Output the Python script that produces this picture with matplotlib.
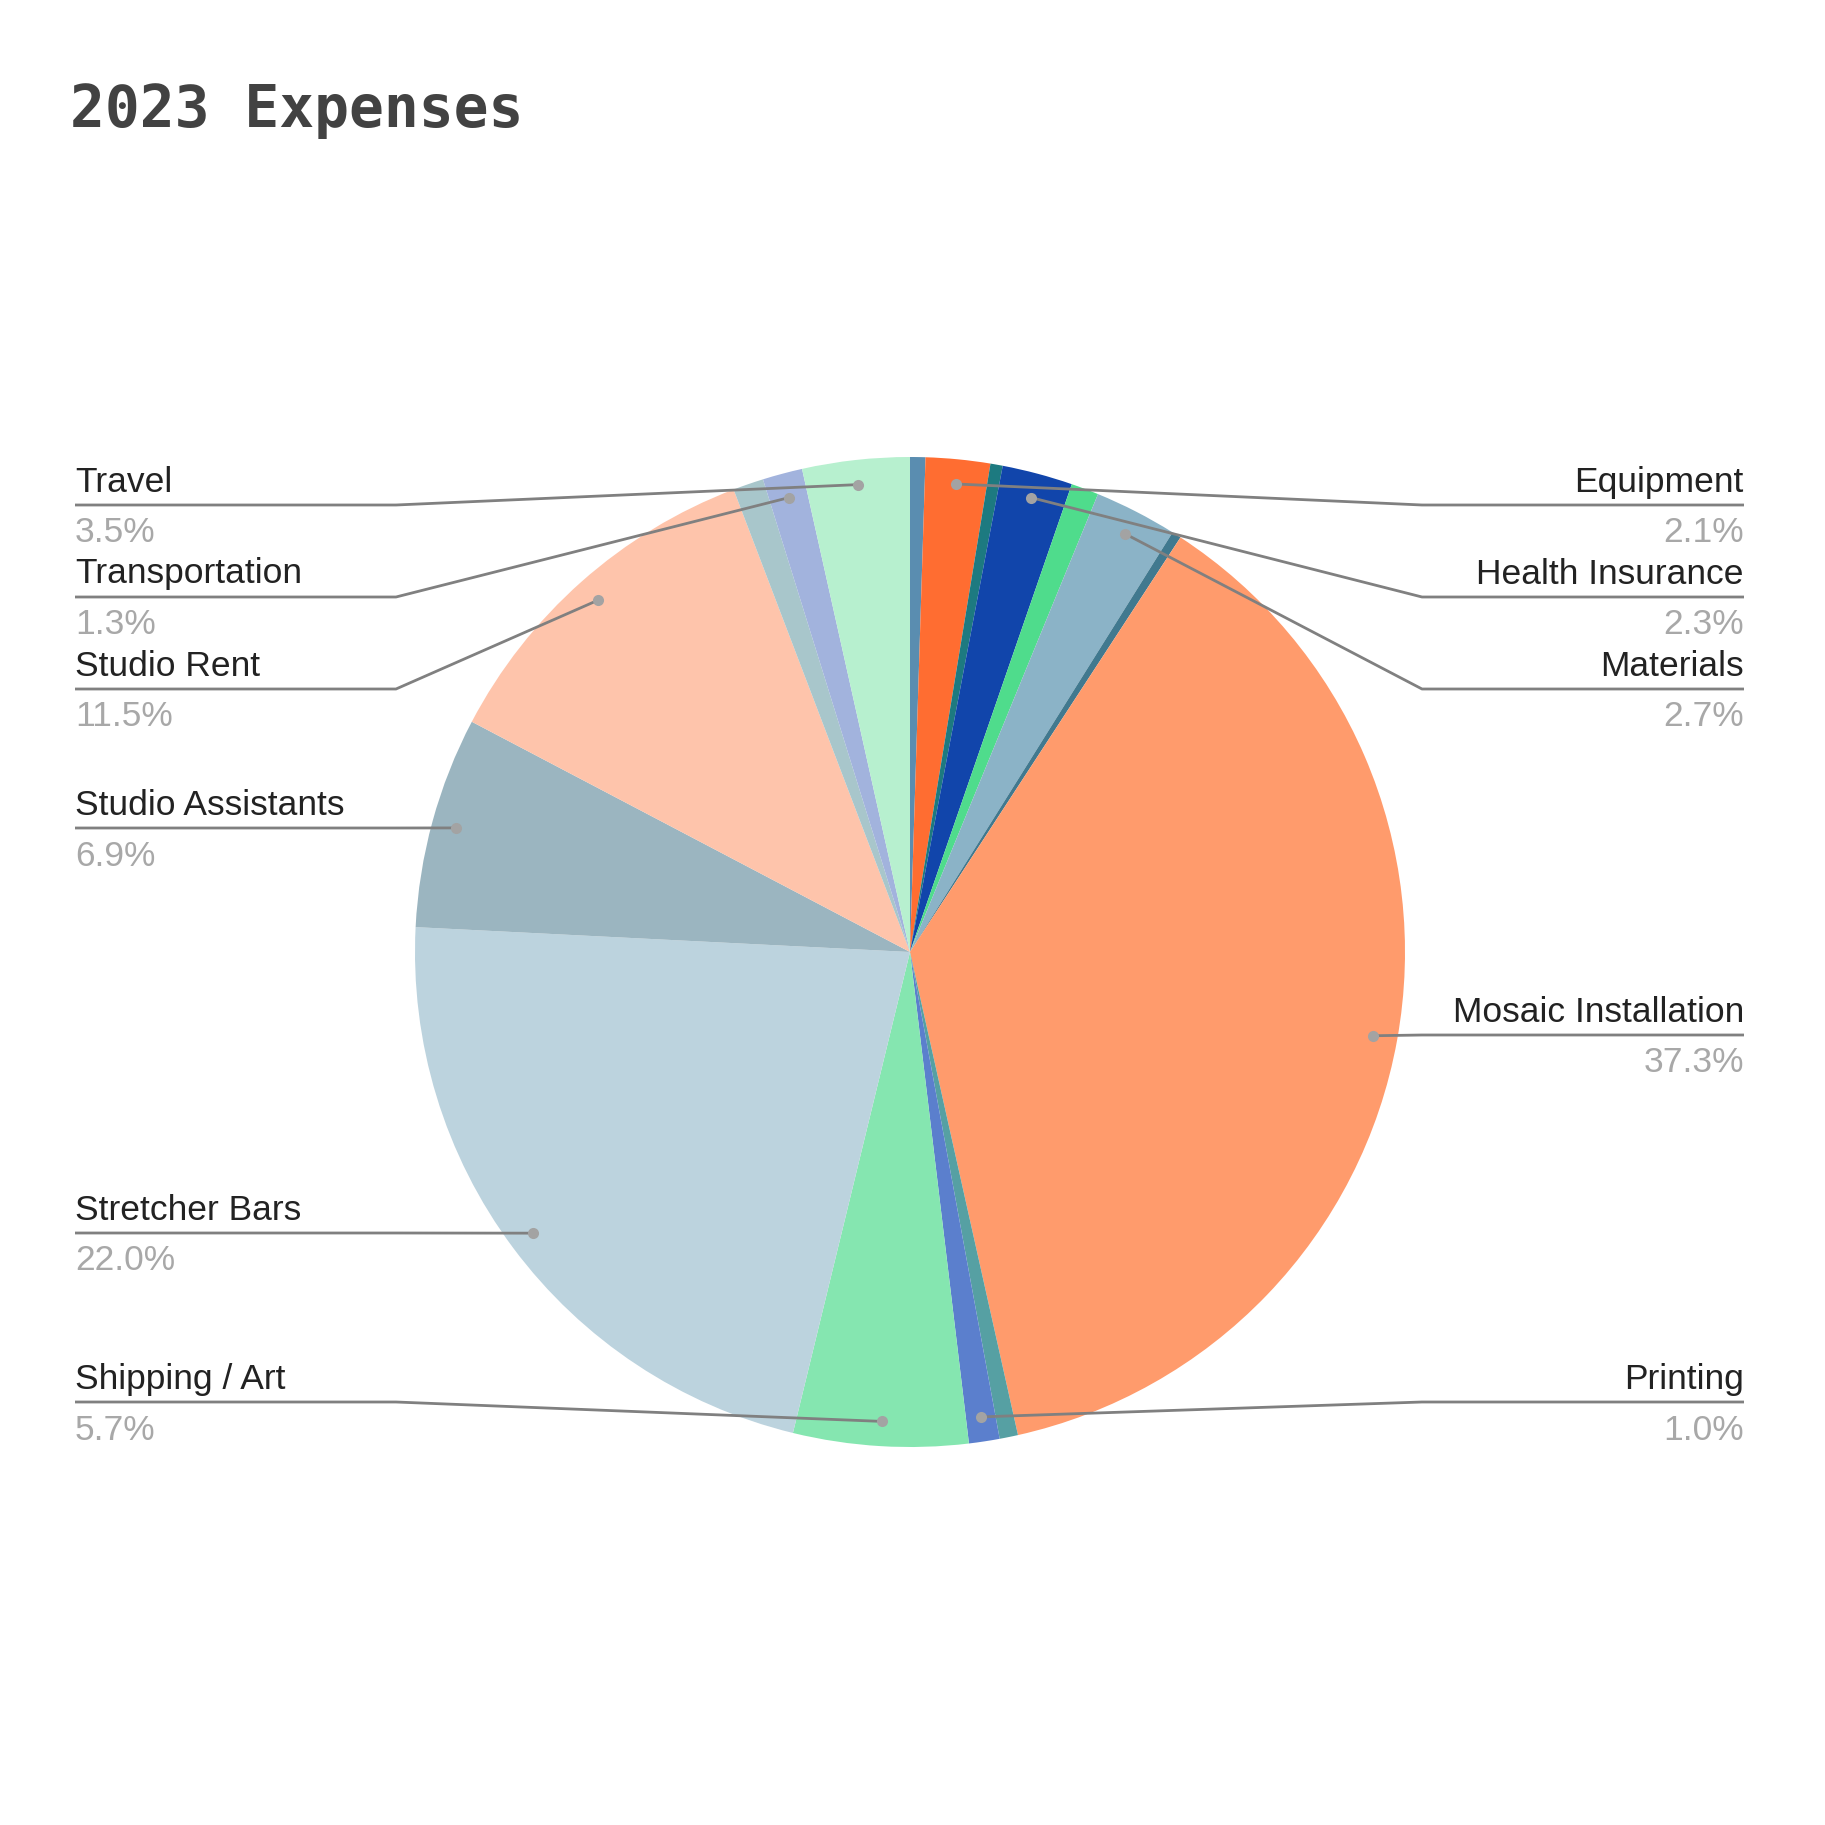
import numpy as np
import matplotlib
matplotlib.use("Agg")
import matplotlib.pyplot as plt

# slices in drawing order (clockwise from 12 o'clock), small ones have no label
categories = ["", "Equipment", "", "Health Insurance", "", "Materials", "",
              "Mosaic Installation", "", "Printing", "Shipping / Art",
              "Stretcher Bars", "Studio Assistants", "Studio Rent", "",
              "Transportation", "Travel"]
values = [0.5, 2.1, 0.4, 2.3, 0.9, 2.7, 0.3, 37.3, 0.6, 1.0, 5.7,
          22.0, 6.9, 11.5, 1.0, 1.3, 3.5]
colors = ["#5a8db0", "#ff6d31", "#1d7a80", "#1145ab", "#4fdc8c", "#8bb3c7",
          "#41798f", "#ff9b6c", "#56a0a3", "#5b7fcd", "#85e6b0", "#bcd3de",
          "#9bb5c0", "#fec4ab", "#a8c6cb", "#a2b3dd", "#b7f0cf"]

# label layout: side and y of the leader line (pixels from top)
label_side = {"Equipment": "right", "Health Insurance": "right", "Materials": "right",
              "Mosaic Installation": "right", "Printing": "right",
              "Shipping / Art": "left", "Stretcher Bars": "left",
              "Studio Assistants": "left", "Studio Rent": "left",
              "Transportation": "left", "Travel": "left"}
label_y = {"Equipment": 505, "Health Insurance": 597, "Materials": 689,
           "Mosaic Installation": 1035, "Printing": 1402,
           "Shipping / Art": 1402, "Stretcher Bars": 1233,
           "Studio Assistants": 828, "Studio Rent": 689,
           "Transportation": 597, "Travel": 505}

W = 1825
cx, cy, R = 910, 952, 495

fig = plt.figure(figsize=(18.25, 18.25), dpi=100)
ax = fig.add_axes([0, 0, 1, 1])

# y axis inverted, so counterclock=True draws clockwise on screen
ax.pie(values, colors=colors, startangle=-90, counterclock=True,
       radius=R, center=(cx, cy), wedgeprops=dict(linewidth=0))

ax.set_xlim(0, W)
ax.set_ylim(W, 0)
ax.set_aspect("equal")
ax.axis("off")

total = sum(values)
cum = 0.0
for name, v in zip(categories, values):
    mid = (cum + v / 2) / total * 2 * np.pi
    cum += v
    if not name:
        continue
    dx = cx + 0.95 * R * np.sin(mid)
    dy = cy - 0.95 * R * np.cos(mid)
    ly = label_y[name]
    pct = f"{v / total * 100:.1f}%"
    if label_side[name] == "left":
        xs = [75, 396, dx]
        tx, ha = 75, "left"
    else:
        xs = [1744, 1422, dx]
        tx, ha = 1744, "right"
    ax.plot(xs, [ly, ly, dy], color="#808080", lw=2.0, solid_capstyle="butt", zorder=3)
    ax.plot([dx], [dy], "o", color="#a3a3a3", ms=8, mec="none", zorder=4)
    ax.text(tx, ly - 23, name, ha=ha, va="center", fontsize=25.5,
            family="Liberation Sans", color="#222222")
    ax.text(tx, ly + 28, pct, ha=ha, va="center", fontsize=25.5,
            family="Liberation Sans", color="#a8a8a8")

ax.text(70, 127, "2023 Expenses", ha="left", va="baseline", fontsize=41.8,
        family="DejaVu Sans Mono", fontweight="bold", color="#424242")

fig.savefig("out.png", dpi=100, facecolor="white")
